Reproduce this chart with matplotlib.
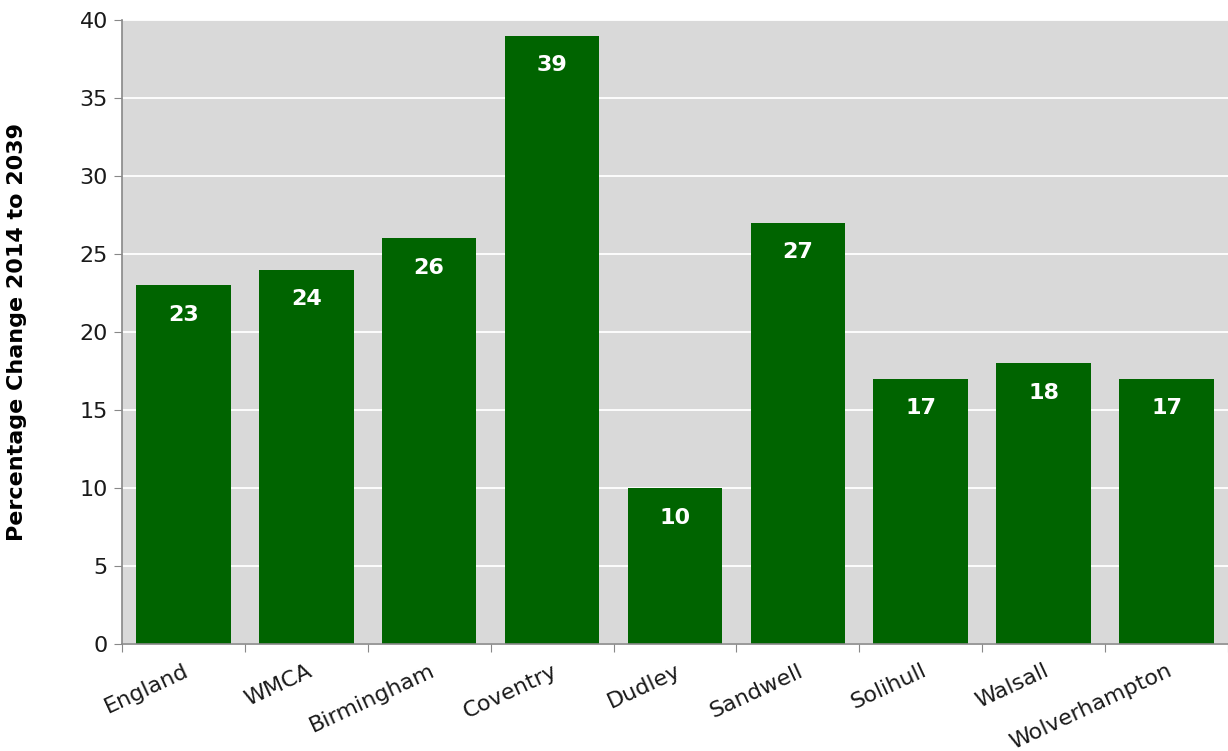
import matplotlib.pyplot as plt
import numpy as np

# data
areas = ['England', 'WMCA', 'Birmingham', 'Coventry', 'Dudley',
         'Sandwell', 'Solihull', 'Walsall', 'Wolverhampton']
pct_change = [23, 24, 26, 39, 10, 27, 17, 18, 17]
y_ticks = [0, 5, 10, 15, 20, 25, 30, 35, 40]

fig = plt.figure(figsize=(12.28, 7.51), dpi=100)
ax = fig.add_axes([0.0993, 0.1425, 0.9007, 0.8309])

x = np.arange(len(areas))
ax.set_facecolor('#d9d9d9')
ax.set_axisbelow(True)
ax.yaxis.grid(True, color='white', linewidth=1.3)

bars = ax.bar(x, pct_change, width=0.77, color='#006400', zorder=2)

# value labels inside the top of each bar
for b, v in zip(bars, pct_change):
    ax.text(b.get_x() + b.get_width() / 2, v - 1.9, str(v),
            ha='center', va='center', color='white',
            fontsize=16, fontweight='bold', zorder=3)

ax.set_xlim(-0.5, len(areas) - 0.5)
ax.set_ylim(0, 40)
ax.set_yticks(y_ticks)
ax.tick_params(axis='y', labelsize=16, length=6, color='#888888', pad=4,
               labelcolor='#1a1a1a')

# ticks between categories, labels at bar centres
ax.set_xticks(np.arange(-0.5, len(areas)), minor=False)
ax.set_xticklabels([])
ax.set_xticks(x, minor=True)
ax.set_xticklabels(areas, minor=True, rotation=25, ha='right',
                   rotation_mode='anchor', fontsize=16, color='#1a1a1a')
ax.tick_params(axis='x', which='major', length=6, color='#888888')
ax.tick_params(axis='x', which='minor', length=0, pad=12)

for s in ['top', 'right']:
    ax.spines[s].set_visible(False)
for s in ['left', 'bottom']:
    ax.spines[s].set_color('#888888')
    ax.spines[s].set_linewidth(1.2)

ax.set_ylabel('Percentage Change 2014 to 2039', fontsize=16,
              fontweight='bold', labelpad=38)

fig.savefig('out.png', dpi=100)
